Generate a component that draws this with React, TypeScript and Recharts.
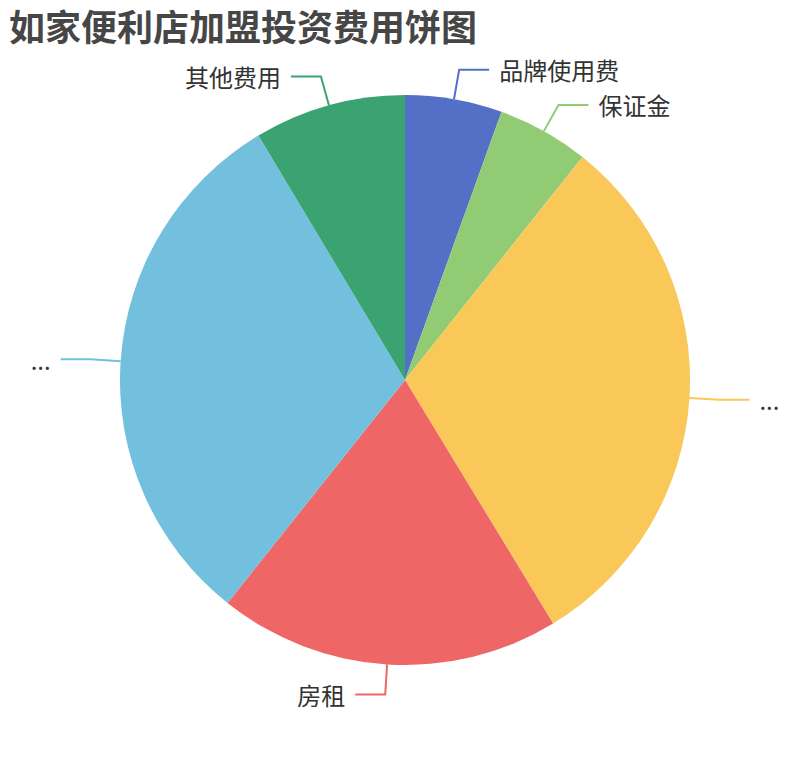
import { PieChart, Pie, Cell } from "recharts";

const categories = ["品牌使用费", "保证金", "...", "房租", "...", "其他费用"];
const values = [5.5, 5.2, 30.6, 19.4, 30.7, 8.6];
const colors = ["#5470c6", "#91cc75", "#fac858", "#ee6666", "#73c0de", "#3ba272"];

const data = categories.map((name, i) => ({ name, value: values[i] }));

const RADIAN = Math.PI / 180;
const FONT = '"Noto Sans CJK SC", "Noto Sans", sans-serif';

// echarts-style label: radial segment, then a horizontal one, then text
const renderLabel = (props: any) => {
  const { cx, cy, midAngle, outerRadius, index, name } = props;
  const cos = Math.cos(-midAngle * RADIAN);
  const sin = Math.sin(-midAngle * RADIAN);
  const x0 = cx + outerRadius * cos;
  const y0 = cy + outerRadius * sin;
  const x1 = cx + (outerRadius + 30) * cos;
  const y1 = cy + (outerRadius + 30) * sin;
  const right = cos >= 0;
  const x2 = x1 + (right ? 30 : -30);
  const color = colors[index];
  return (
    <g key={`label-${index}`}>
      <polyline
        points={`${x0},${y0} ${x1},${y1} ${x2},${y1}`}
        fill="none"
        stroke={color}
        strokeWidth={2}
      />
      <text
        x={x2 + (right ? 10 : -10)}
        y={y1}
        textAnchor={right ? "start" : "end"}
        dominantBaseline="central"
        fill="#333"
        fontSize={24}
        fontFamily={FONT}
      >
        {name}
      </text>
    </g>
  );
};

export default function App() {
  return (
    <div style={{ position: "relative", width: 810, height: 760 }}>
      <style>{`body{margin:0}`}</style>
      <div
        style={{
          position: "absolute",
          left: 9,
          top: 2,
          fontFamily: FONT,
          fontWeight: 700,
          fontSize: 36,
          lineHeight: "46px",
          color: "#464646",
          whiteSpace: "nowrap",
        }}
      >
        如家便利店加盟投资费用饼图
      </div>
      <PieChart width={810} height={760} margin={{ top: 0, right: 0, bottom: 0, left: 0 }}>
        <Pie
          data={data}
          dataKey="value"
          nameKey="name"
          cx={405}
          cy={380}
          outerRadius={285}
          startAngle={90}
          endAngle={-270}
          stroke="none"
          label={renderLabel}
          labelLine={false}
          isAnimationActive={false}
        >
          {data.map((d, i) => (
            <Cell key={i} fill={colors[i]} />
          ))}
        </Pie>
      </PieChart>
    </div>
  );
}
